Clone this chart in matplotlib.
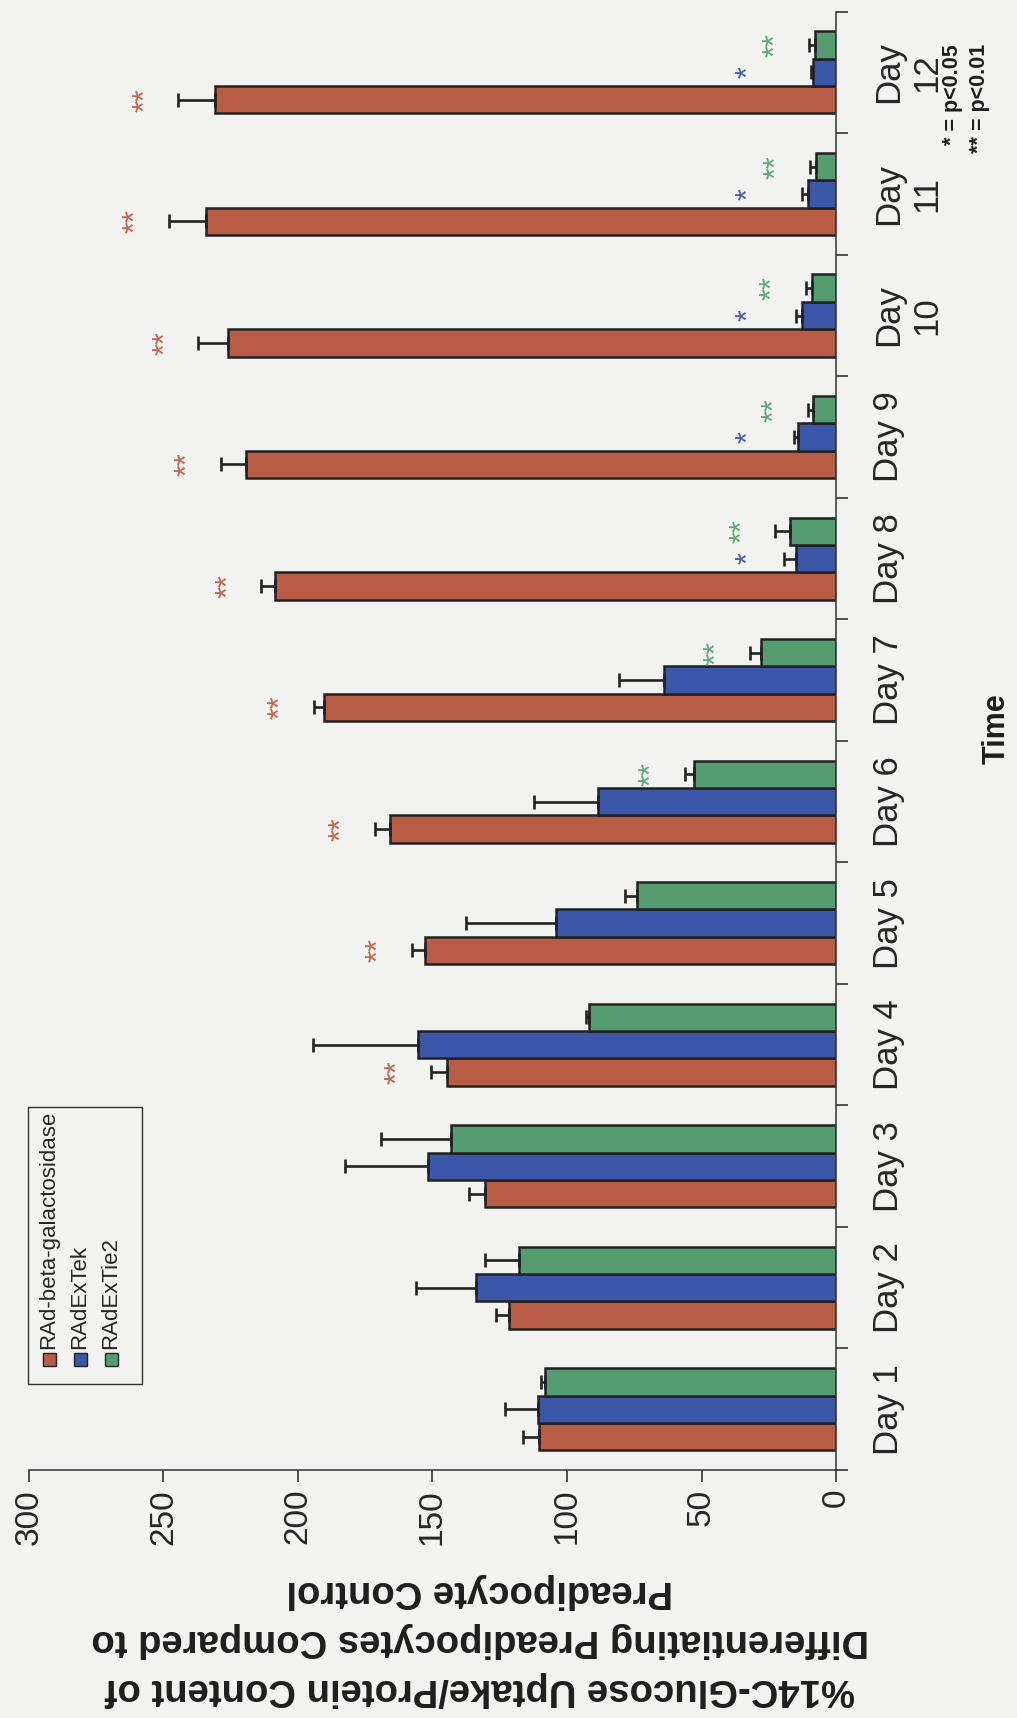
import numpy as np
import matplotlib
matplotlib.use("Agg")
import matplotlib.pyplot as plt
from matplotlib.patches import Rectangle

# ---- data -------------------------------------------------------------
days = ["Day 1", "Day 2", "Day 3", "Day 4", "Day 5", "Day 6", "Day 7",
        "Day 8", "Day 9", "Day\n10", "Day\n11", "Day\n12"]
series_names = ["RAd-beta-galactosidase", "RAdExTek", "RAdExTie2"]

gal = [110.5, 121.5, 130.6, 144.6, 152.8, 165.8, 190.4, 208.6, 219.4, 226.0, 234.3, 230.8]
gal_err = [6.0, 5.0, 5.8, 5.9, 5.0, 5.6, 3.8, 5.0, 9.4, 11.0, 13.8, 13.7]

tek = [110.8, 133.9, 151.7, 155.4, 104.2, 88.5, 63.8, 15.0, 14.2, 12.6, 10.4, 8.4]
tek_err = [12.4, 22.3, 31.0, 39.0, 33.5, 23.6, 16.8, 4.5, 1.5, 2.4, 2.2, 1.0]

tie2 = [108.3, 117.8, 143.3, 91.8, 74.0, 52.7, 27.8, 17.0, 8.4, 8.8, 7.6, 7.9]
tie2_err = [1.2, 12.8, 26.0, 1.3, 4.6, 3.6, 4.3, 5.5, 2.0, 2.5, 2.0, 2.2]

gal_sig = ["", "", "", "**", "**", "**", "**", "**", "**", "**", "**", "**"]
tek_sig = ["", "", "", "", "", "", "", "*", "*", "*", "*", "*"]
tie2_sig = ["", "", "", "", "", "**", "**", "**", "**", "**", "**", "**"]

value_ticks = [0, 50, 100, 150, 200, 250, 300]
value_label = ("%14C-Glucose Uptake/Protein Content of\n"
               "Differentiating Preadipocytes Compared to\n"
               "Preadipocyte Control")
category_label = "Time"
sig_note = "* = p<0.05\n** = p<0.01"

# ---- style ------------------------------------------------------------
W, H = 1017, 1718
BG = "#f2f2f0"
INK = "#222222"
bar_colors = ["#b95c45", "#3c56a9", "#559c71"]
star_colors = ["#c4664e", "#4360b3", "#5ea877"]
NARROW = ["Liberation Sans Narrow", "Liberation Sans", "DejaVu Sans"]

plt.rcParams["font.family"] = ["Liberation Sans", "DejaVu Sans"]


def fx(px):
    return px / W


def fy(py):
    return 1 - py / H


fig = plt.figure(figsize=(W / 100, H / 100), dpi=100, facecolor=BG)
ax = fig.add_axes([fx(29), fy(1470), (836 - 29) / W, (1470 - 11.7) / H])
ax.set_facecolor("none")

ypos = np.arange(len(days))
bw = 0.225
offsets = [-bw, 0.0, bw]
all_series = [(gal, gal_err, gal_sig), (tek, tek_err, tek_sig), (tie2, tie2_err, tie2_sig)]

for i, (vals, errs, sigs) in enumerate(all_series):
    pos = ypos + offsets[i]
    ax.barh(pos, vals, height=bw, color=bar_colors[i], edgecolor=INK,
            linewidth=1.8, label=series_names[i], zorder=2,
            xerr=[np.zeros(len(vals)), errs],
            error_kw=dict(ecolor=INK, elinewidth=1.9, capsize=4.7,
                          capthick=1.9, zorder=3))
    for p, v, e, s in zip(pos, vals, errs, sigs):
        if not s:
            continue
        sx = v + e + 12
        if i == 1:
            sx = max(sx, 32)
        ax.text(sx, p, s, rotation=90, rotation_mode="anchor",
                ha="center", va="center", color=star_colors[i],
                fontsize=22, zorder=4)

ax.set_xlim(300, 0)
ax.set_ylim(-0.5, len(days) - 0.5)

# value axis (drawn along the bottom)
ax.set_xticks(value_ticks)
ax.set_xticklabels([str(v) for v in value_ticks], rotation=90)
ax.tick_params(axis="x", direction="out", length=8.6, width=1.2,
               colors="#333333", labelcolor="#262626", labelsize=24, pad=5)

# category axis (drawn along the right)
ax.yaxis.tick_right()
ax.set_yticks(ypos)
ax.set_yticklabels(days, rotation=90, va="center", ha="left")
for lbl in ax.get_yticklabels():
    lbl.set_multialignment("center")
    lbl.set_family(NARROW)
ax.set_yticks(np.arange(-0.5, len(days), 1.0), minor=True)
ax.tick_params(axis="y", which="major", length=0, pad=26,
               labelsize=25, labelcolor="#262626")
ax.tick_params(axis="y", which="minor", direction="out", length=8.6,
               width=1.2, colors="#333333", right=True, left=False)

for side in ("top", "left"):
    ax.spines[side].set_visible(False)
for side in ("bottom", "right"):
    ax.spines[side].set_linewidth(1.1)
    ax.spines[side].set_color("#333333")

# axis titles
fig.text(fx(480), fy(1640), value_label, rotation=180, ha="center",
         va="center", multialignment="center", fontsize=27.5,
         fontweight="bold", linespacing=1.47, color="#1e1e1e")
fig.text(fx(997), fy(729), category_label, rotation=90, ha="center",
         va="center", fontsize=22, fontweight="bold", color="#1e1e1e")
fig.text(fx(966), fy(44), sig_note, rotation=90, ha="center", va="top",
         multialignment="right", fontsize=15.5, fontweight="bold",
         linespacing=1.35, color="#1e1e1e")

# legend box with upright-rotated entries
fig.add_artist(Rectangle((fx(28), fy(1384)), 114 / W, 277 / H,
                         transform=fig.transFigure, facecolor=BG,
                         edgecolor="#333333", linewidth=1.0, zorder=5))
for cx, name, col in zip([49, 80, 111], series_names, bar_colors):
    fig.add_artist(Rectangle((fx(cx - 6.5), fy(1366)), 13 / W, 13 / H,
                             transform=fig.transFigure, facecolor=col,
                             edgecolor=INK, linewidth=1.0, zorder=6))
    fig.text(fx(cx), fy(1349), name, rotation=90, rotation_mode="anchor",
             ha="left", va="center", fontsize=16, color="#262626", zorder=6)

fig.savefig("out.png", dpi=100, facecolor=BG)
